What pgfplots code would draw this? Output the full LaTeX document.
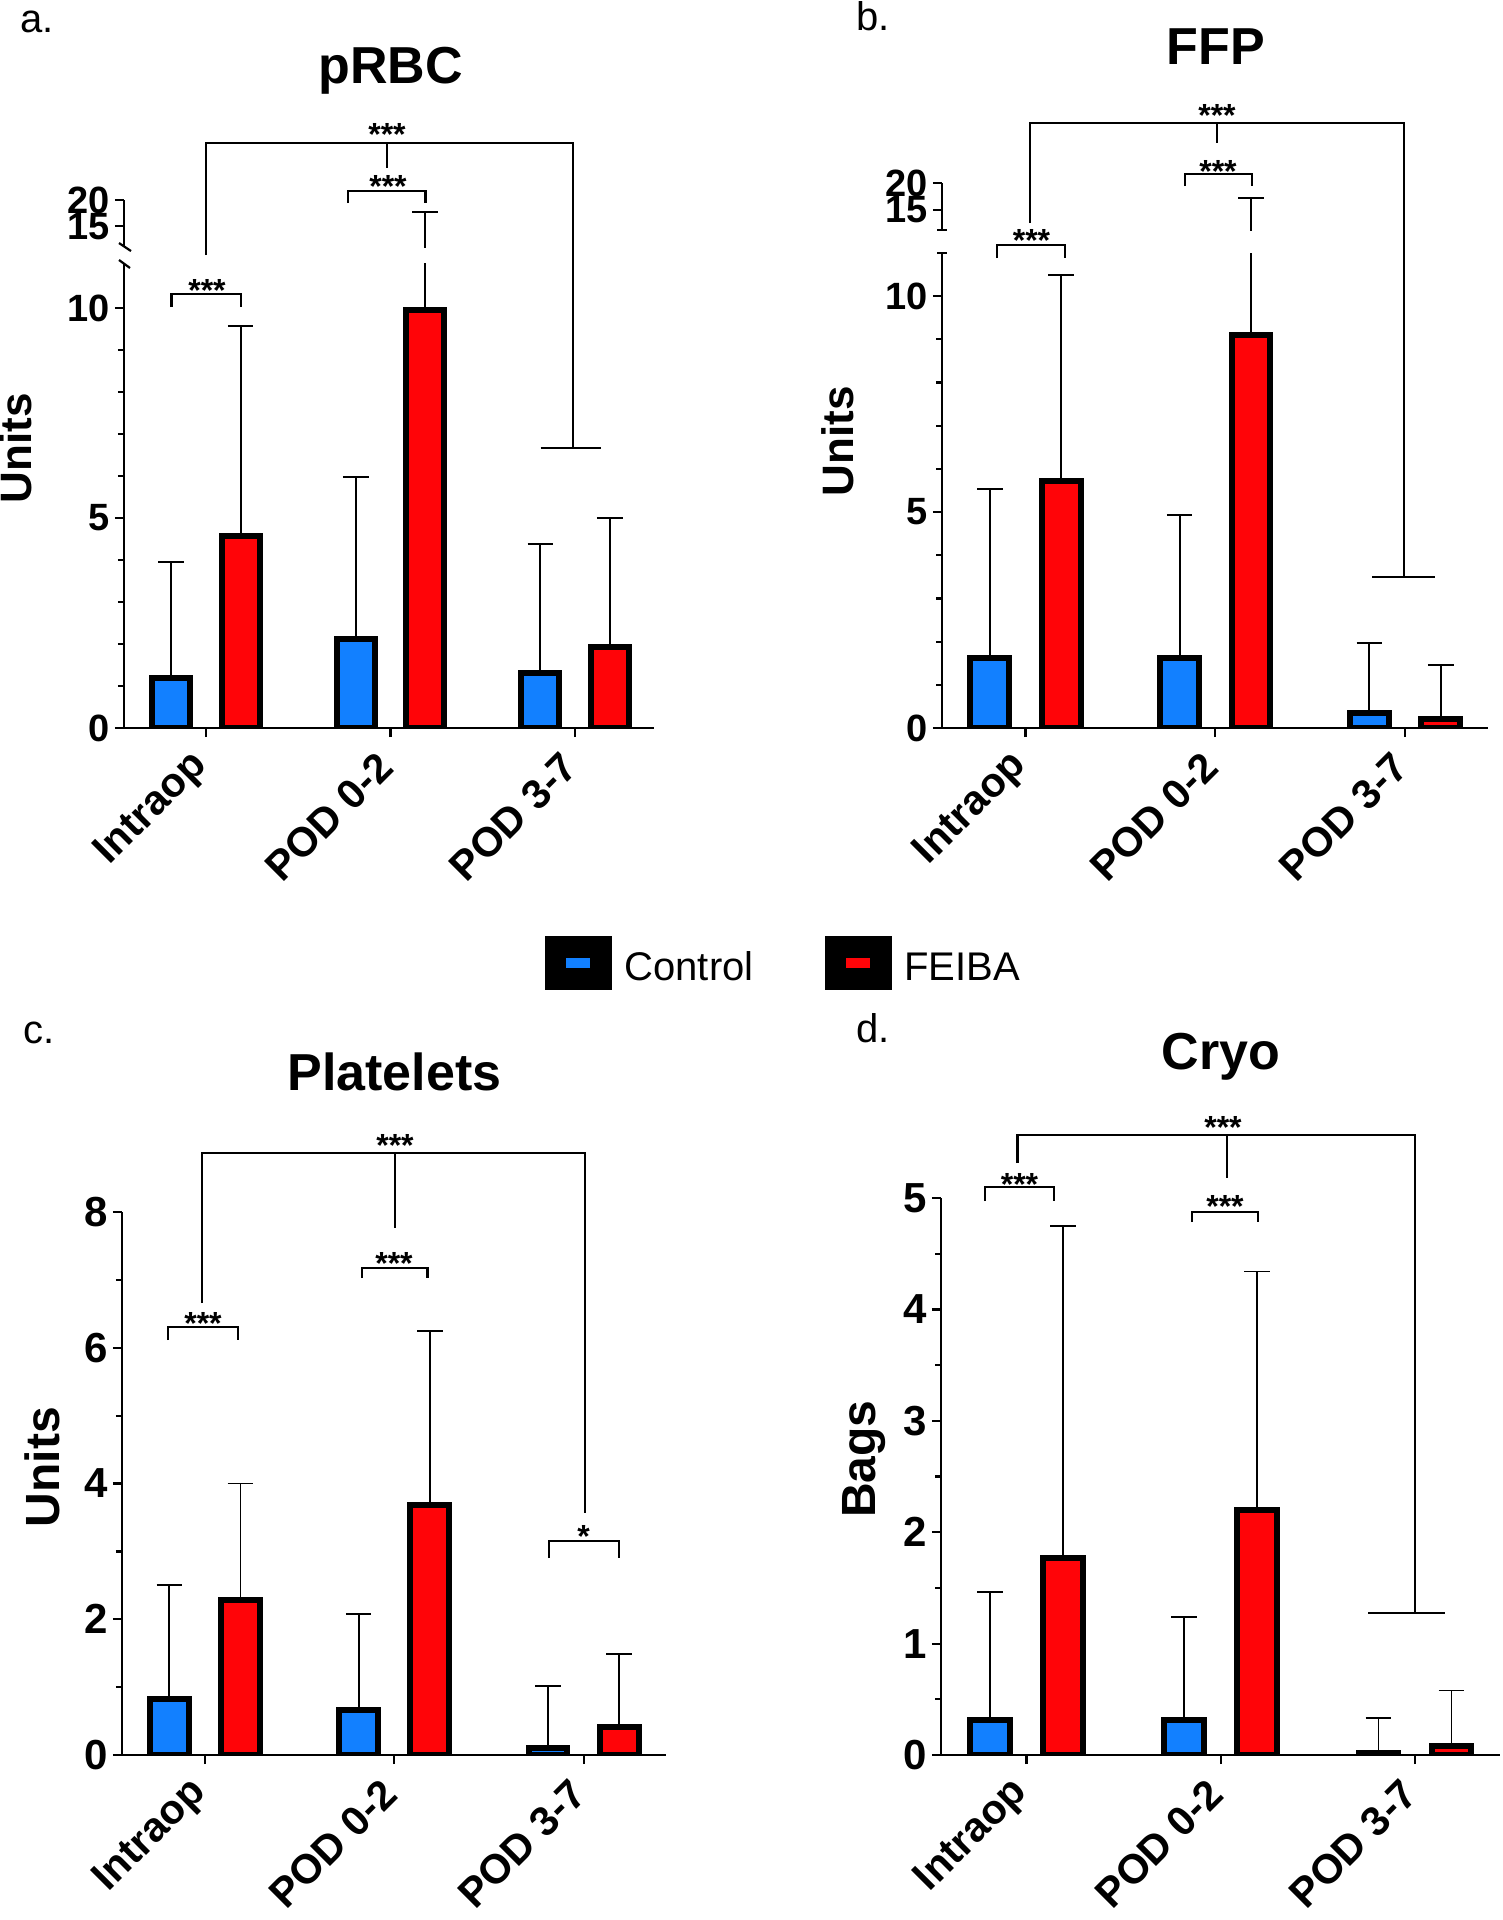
\documentclass[border=0pt]{standalone}
\usepackage{fontspec}
\setmainfont{Liberation Sans}
\usepackage{pgfplots}
\usepackage{pgfplotstable}
\pgfplotsset{compat=1.18}

\definecolor{cblue}{RGB}{18,128,255}
\definecolor{cred}{RGB}{255,4,8}

% mean and upper SD for each period (x = 0 Intraop, 1 POD 0-2, 2 POD 3-7)
\pgfplotstableread{
x ctrl cerr feiba ferr
0 1.18 2.77 4.56 5.01
1 2.13 3.85 9.94 7.76
2 1.32 3.06 1.92 3.08
}\prbc
\pgfplotstableread{
x ctrl cerr feiba ferr
0 1.61 3.92 5.71 4.78
1 1.63 3.30 9.09 8.11
2 0.34 1.63 0.22 1.24
}\ffp
\pgfplotstableread{
x ctrl cerr feiba ferr
0 0.83 1.67 2.29 1.71
1 0.66 1.42 3.68 2.57
2 0.11 0.91 0.41 1.08
}\plt
\pgfplotstableread{
x ctrl cerr feiba ferr
0 0.31 1.15 1.77 2.98
1 0.31 0.93 2.20 2.14
2 0.02 0.31 0.08 0.50
}\cryo

\pgfplotsset{
  panel/.style={
    scale only axis, anchor=south west,
    axis x line=bottom, axis y line=left,
    axis line style={line width=0.55pt, -},
    tick align=outside,
    major tick length=2.3pt, minor tick length=1.5pt,
    tick style={line width=0.55pt, black},
    xtick={0,1,2}, xticklabels={Intraop,POD 0-2,POD 3-7},
    xticklabel shift=4.5pt,
    x tick label style={rotate=45, anchor=east, inner sep=1.5pt,
      font=\bfseries\fontsize{10.3}{11}\selectfont},
    /pgf/number format/assume math mode=true,
    y tick label style={inner sep=1pt, font=\bfseries\fontsize{9.5}{10}\selectfont},
    every axis title/.style={anchor=base, inner sep=0pt,
      font=\bfseries\fontsize{13}{15}\selectfont},
    ylabel style={anchor=base, inner sep=0pt,
      font=\bfseries\fontsize{11}{13}\selectfont},
    ymin=0,
  },
  bars/.style={ybar, bar width=0.205, bar shift=0pt, draw=black, line width=1.5pt,
    legend image code/.code={
      \fill[black] (0pt,-4.4pt) rectangle (15.25pt,7.7pt);
      \fill (3.9pt,-0.4pt) rectangle (11.4pt,3.7pt);},
    error bars/y dir=plus, error bars/y explicit,
    error bars/error bar style={line width=0.45pt, black},
    error bars/error mark options={rotate=90, mark size=3.2pt, line width=0.45pt, black}},
  ctrl/.style={bars, fill=cblue},
  feiba/.style={bars, fill=cred},
  hidden/.style={draw=none, fill=none},
}
% bar centres sit 0.188 either side of each period
\newcommand{\ctrlplot}[2][]{\addplot[ctrl,#1] table[x expr=\thisrow{x}-0.188, y=ctrl, y error=cerr] {#2};}
\newcommand{\feibaplot}[2][]{\addplot[feiba,#1] table[x expr=\thisrow{x}+0.188, y=feiba, y error=ferr] {#2};}

\begin{document}
\begin{tikzpicture}
\useasboundingbox (0,0) rectangle (375.5pt,-480pt);

% ---- a. pRBC (broken axis)
\begin{axis}[panel, at={(31pt,-182pt)}, width=132.5pt, height=116.25pt,
  xmin=-0.444, xmax=2.428, ymax=11.07,
  ytick={0,5,10}, minor y tick num=4,
  title={pRBC}, title style={at={(axis description cs:0.5028,1.387)}},
  ylabel={Units}, ylabel style={at={(axis description cs:-0.175,0.602)}},
  legend columns=2,
  legend style={at={(0.794,-0.505)}, anchor=west, draw=none, fill=none,
    inner sep=0pt, outer sep=0pt, font=\fontsize{10}{12}\selectfont,
    nodes={inner sep=0pt},
    /tikz/every odd column/.append style={column sep=3.2pt},
    /tikz/every even column/.append style={column sep=17.75pt}}]
\ctrlplot{\prbc}
\addlegendentry{Control}
\feibaplot{\prbc}
\addlegendentry{FEIBA}
\end{axis}
\begin{axis}[panel, at={(31pt,-61.75pt)}, width=132.5pt, height=11.75pt,
  xmin=-0.444, xmax=2.428, ymin=11, ymax=20,
  axis x line=none, xtick=\empty, ytick={15,20}]
\ctrlplot[hidden]{\prbc}
\feibaplot[hidden]{\prbc}
\end{axis}

% ---- b. FFP (broken axis)
\begin{axis}[panel, at={(235.5pt,-182pt)}, width=136.5pt, height=118.75pt,
  xmin=-0.44, xmax=2.437, ymax=11.0,
  ytick={0,5,10}, minor y tick num=4,
  title={FFP}, title style={at={(axis description cs:0.502,1.396)}},
  ylabel={Units}, ylabel style={at={(axis description cs:-0.163,0.604)}}]
\ctrlplot{\ffp}
\feibaplot{\ffp}
\end{axis}
\begin{axis}[panel, at={(235.5pt,-57.5pt)}, width=136.5pt, height=11.75pt,
  xmin=-0.44, xmax=2.437, ymin=11.3, ymax=20,
  axis x line=none, xtick=\empty, ytick={15,20}]
\ctrlplot[hidden]{\ffp}
\feibaplot[hidden]{\ffp}
\end{axis}

% ---- c. Platelets
\begin{axis}[panel, at={(30.5pt,-438.75pt)}, width=136pt, height=135.75pt,
  xmin=-0.438, xmax=2.435, ymax=8,
  ytick={0,2,4,6,8}, minor y tick num=1,
  y tick label style={font=\bfseries\fontsize{10.5}{11}\selectfont},
  ylabel style={font=\bfseries\fontsize{12}{14}\selectfont},
  title={Platelets}, title style={at={(axis description cs:0.501,1.2247)}},
  ylabel={Units}, ylabel style={at={(axis description cs:-0.114,0.530)}}]
\ctrlplot{\plt}
\feibaplot{\plt}
\end{axis}

% ---- d. Cryo
\begin{axis}[panel, at={(235.25pt,-438.75pt)}, width=139.75pt, height=139.25pt,
  xmin=-0.44, xmax=2.438, ymax=5,
  ytick={0,1,2,3,4,5}, minor y tick num=1,
  y tick label style={font=\bfseries\fontsize{10.5}{11}\selectfont},
  ylabel style={font=\bfseries\fontsize{12}{14}\selectfont},
  title={Cryo}, title style={at={(axis description cs:0.501,1.23)}},
  ylabel={Bags}, ylabel style={at={(axis description cs:-0.118,0.531)}}]
\ctrlplot{\cryo}
\feibaplot{\cryo}
\end{axis}

% ---- panel letters, axis breaks and significance brackets (pixel grid)
\begin{scope}[x=0.25pt, y=-0.25pt, line width=0.55pt]
  \tikzset{lt/.style={anchor=base west, inner sep=0pt, font=\fontsize{10}{12}\selectfont},
           st/.style={anchor=base, inner sep=0pt, font=\bfseries\fontsize{8}{9}\selectfont}}
  \node[lt] at (19,32) {a.};
  \node[lt] at (855,30) {b.};
  \node[lt] at (22,1043) {c.};
  \node[lt] at (855,1042) {d.};

  % breaks
  \draw (119,243) -- (131,251);
  \draw (119,260) -- (130,268);
  \draw (937,230) -- (947,230);
  \draw (937,253) -- (947,253);

  % a
  \draw (171.5,307) -- (171.5,294) -- (241,294) -- (241,307);
  \draw (348,203) -- (348,191) -- (425.5,191) -- (425.5,203);
  \draw (206,255) -- (206,143) -- (572.6,143) -- (572.6,448);
  \draw (387,143) -- (387,168);
  \draw (540.5,448) -- (601,448);
  \node[st] at (207,301) {***};
  \node[st] at (388,197) {***};
  \node[st] at (387,145) {***};

  % b
  \draw (996.8,258) -- (996.8,245) -- (1065.3,245) -- (1065.3,258);
  \draw (1185,186) -- (1185,174) -- (1251.7,174) -- (1251.7,186);
  \draw (1030,223) -- (1030,123) -- (1404,123) -- (1404,577);
  \draw (1217,123) -- (1217,143);
  \draw (1372,577) -- (1435,577);
  \node[st] at (1031.5,251) {***};
  \node[st] at (1218,182) {***};
  \node[st] at (1217,126) {***};

  % c
  \draw (167.7,1340) -- (167.7,1327) -- (238,1327) -- (238,1340);
  \draw (361.8,1278) -- (361.8,1268) -- (427.4,1268) -- (427.4,1278);
  \draw (548.6,1558) -- (548.6,1541) -- (619,1541) -- (619,1558);
  \draw (202,1303) -- (202,1153) -- (584.6,1153) -- (584.6,1513);
  \draw (395.3,1153) -- (395.3,1228);
  \node[st] at (203,1334) {***};
  \node[st] at (394,1274) {***};
  \node[st] at (583.6,1547) {*};
  \node[st] at (395,1156) {***};

  % d
  \draw (984.8,1201) -- (984.8,1187) -- (1054.3,1187) -- (1054.3,1201);
  \draw (1191.8,1222) -- (1191.8,1212) -- (1257.9,1212) -- (1257.9,1222);
  \draw (1017.4,1163) -- (1017.4,1135) -- (1414.6,1135) -- (1414.6,1613);
  \draw (1226.8,1135) -- (1226.8,1178);
  \draw (1368,1613) -- (1444.8,1613);
  \node[st] at (1019.5,1195) {***};
  \node[st] at (1225,1217) {***};
  \node[st] at (1223,1138) {***};
\end{scope}
\end{tikzpicture}
\end{document}
